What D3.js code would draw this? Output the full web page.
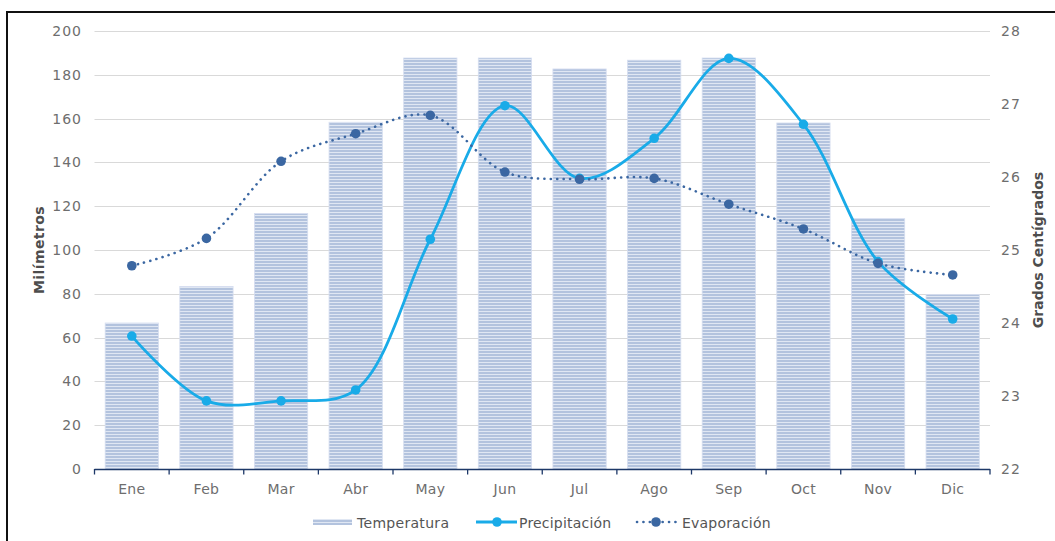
<!DOCTYPE html>
<html>
<head>
<meta charset="utf-8">
<script src="https://cdn.jsdelivr.net/npm/d3@7"></script>
<style>
  body { margin: 0; background: #fff; }
  svg { display: block; }
  text { font-family: "DejaVu Sans", "Liberation Sans", sans-serif; }
</style>
</head>
<body>
<svg id="chart" width="1055" height="541"></svg>
<script>
// Monthly climate data
const months = ["Ene", "Feb", "Mar", "Abr", "May", "Jun", "Jul", "Ago", "Sep", "Oct", "Nov", "Dic"];
const temperatura = [24.0, 24.5, 25.5, 26.75, 27.63, 27.63, 27.48, 27.6, 27.63, 26.74, 25.43, 24.39]; // °C
const precipitacion = [60.7, 31.1, 31.1, 36.1, 104.9, 165.9, 132.7, 151.0, 187.5, 157.4, 94.7, 68.5]; // mm
const evaporacion = [92.8, 105.3, 140.5, 153.1, 161.5, 135.6, 132.3, 132.7, 120.9, 109.6, 93.9, 88.6]; // mm
const mmTicks = [0, 20, 40, 60, 80, 100, 120, 140, 160, 180, 200];
const tempTicks = [22, 23, 24, 25, 26, 27, 28];

const svg = d3.select("#chart");
const W = 1055, H = 541;
const plot = { left: 94.5, right: 990, top: 31, bottom: 469 };

const x = d3.scaleBand().domain(months).range([plot.left, plot.right])
  .paddingInner(0.286).paddingOuter(0.143);
const y = d3.scaleLinear().domain([0, 200]).range([plot.bottom, plot.top]);
const yT = d3.scaleLinear().domain([22, 28]).range([plot.bottom, plot.top]);
const cx = m => x(m) + x.bandwidth() / 2;

// outer frame
svg.append("rect").attr("width", W).attr("height", H).attr("fill", "#fff");
svg.append("path").attr("d", `M7,${H} V12 H${W}`)
  .attr("fill", "none").attr("stroke", "#111").attr("stroke-width", 2);

// striped fill for the temperature bars
const defs = svg.append("defs");
const pat = defs.append("pattern").attr("id", "stripes")
  .attr("patternUnits", "userSpaceOnUse").attr("width", 6).attr("height", 3);
pat.append("rect").attr("width", 6).attr("height", 3).attr("fill", "#e0e7f3");
pat.append("rect").attr("width", 6).attr("height", 2).attr("fill", "#b3c3de");

// horizontal grid
svg.append("g").selectAll("line").data(mmTicks.slice(1)).join("line")
  .attr("x1", plot.left).attr("x2", plot.right)
  .attr("y1", d => Math.round(y(d)) + 0.5).attr("y2", d => Math.round(y(d)) + 0.5)
  .attr("stroke", "#d9d9d9").attr("stroke-width", 1);

// bars (right axis)
svg.append("g").selectAll("rect").data(months).join("rect")
  .attr("x", d => x(d))
  .attr("width", x.bandwidth())
  .attr("y", (d, i) => yT(temperatura[i]))
  .attr("height", (d, i) => plot.bottom - yT(temperatura[i]))
  .attr("fill", "url(#stripes)")
  .attr("stroke", "#d6def0").attr("stroke-width", 0.8);

// x axis
const gx = svg.append("g").attr("transform", `translate(0,${plot.bottom})`)
  .call(d3.axisBottom(x).tickSize(0).tickPadding(15.5));
gx.select(".domain").remove();
gx.selectAll("text").attr("fill", "#6e6e6e").attr("font-size", 14).attr("letter-spacing", 0.3);
svg.append("line").attr("x1", plot.left).attr("x2", plot.right)
  .attr("y1", plot.bottom + 0.5).attr("y2", plot.bottom + 0.5)
  .attr("stroke", "#1d3868").attr("stroke-width", 1.3);
const bounds = d3.range(months.length + 1).map(i => plot.left + i * x.step());
svg.append("g").selectAll("line").data(bounds).join("line")
  .attr("x1", d => d).attr("x2", d => d)
  .attr("y1", plot.bottom).attr("y2", plot.bottom + 5.5)
  .attr("stroke", "#1d3868").attr("stroke-width", 1.3);

// left axis (mm)
const gl = svg.append("g").attr("transform", `translate(${plot.left},0)`)
  .call(d3.axisLeft(y).tickValues(mmTicks).tickSize(0).tickPadding(12.5));
gl.select(".domain").remove();
gl.selectAll("text").attr("fill", "#6e6e6e").attr("font-size", 14).attr("letter-spacing", 1);

// right axis (°C)
const gr = svg.append("g").attr("transform", `translate(${plot.right},0)`)
  .call(d3.axisRight(yT).tickValues(tempTicks).tickFormat(d3.format("d")).tickSize(0).tickPadding(11));
gr.select(".domain").remove();
gr.selectAll("text").attr("fill", "#6e6e6e").attr("font-size", 14).attr("letter-spacing", 1);

// axis titles
svg.append("text").attr("transform", "translate(44,250) rotate(-90)")
  .attr("text-anchor", "middle").attr("font-size", 14).attr("font-weight", "bold")
  .attr("fill", "#4d4d4d").attr("letter-spacing", 0.4).text("Milímetros");
svg.append("text").attr("transform", "translate(1042.5,250) rotate(-90)")
  .attr("text-anchor", "middle").attr("font-size", 14).attr("font-weight", "bold")
  .attr("fill", "#4d4d4d").text("Grados Centígrados");

const precipColor = "#19abe8";
const evapColor = "#3b67a2";
const spline = d3.curveCatmullRom.alpha(0.5);

const line = d3.line().x(d => cx(d.m)).y(d => y(d.v)).curve(spline);
const precipData = months.map((m, i) => ({ m, v: precipitacion[i] }));
const evapData = months.map((m, i) => ({ m, v: evaporacion[i] }));

// precipitation
svg.append("path").datum(precipData).attr("d", line)
  .attr("fill", "none").attr("stroke", precipColor).attr("stroke-width", 2.8);
svg.append("g").selectAll("circle").data(precipData).join("circle")
  .attr("cx", d => cx(d.m)).attr("cy", d => y(d.v)).attr("r", 4.8).attr("fill", precipColor);

// evaporation (dotted)
svg.append("path").datum(evapData).attr("d", line)
  .attr("fill", "none").attr("stroke", evapColor).attr("stroke-width", 2.6)
  .attr("stroke-dasharray", "0.1,6.3").attr("stroke-linecap", "round");
svg.append("g").selectAll("circle").data(evapData).join("circle")
  .attr("cx", d => cx(d.m)).attr("cy", d => y(d.v)).attr("r", 4.8).attr("fill", evapColor);

// legend
const lg = svg.append("g").attr("transform", "translate(0,523)");
lg.append("rect").attr("x", 313).attr("y", -4).attr("width", 39).attr("height", 6)
  .attr("fill", "url(#stripes)");
lg.append("text").attr("x", 357).attr("y", 5).attr("font-size", 14).attr("fill", "#555")
  .attr("letter-spacing", 0.3).text("Temperatura");
lg.append("line").attr("x1", 476).attr("x2", 517).attr("y1", -1).attr("y2", -1)
  .attr("stroke", precipColor).attr("stroke-width", 2.8);
lg.append("circle").attr("cx", 497).attr("cy", -1).attr("r", 4.8).attr("fill", precipColor);
lg.append("text").attr("x", 519).attr("y", 5).attr("font-size", 14).attr("fill", "#555")
  .attr("letter-spacing", 0.2).text("Precipitación");
lg.append("line").attr("x1", 637).attr("x2", 678).attr("y1", -1).attr("y2", -1)
  .attr("stroke", evapColor).attr("stroke-width", 2.6)
  .attr("stroke-dasharray", "0.1,6.3").attr("stroke-linecap", "round");
lg.append("circle").attr("cx", 656).attr("cy", -1).attr("r", 4.8).attr("fill", evapColor);
lg.append("text").attr("x", 682).attr("y", 5).attr("font-size", 14).attr("fill", "#555")
  .attr("letter-spacing", 0.2).text("Evaporación");
</script>
</body>
</html>
